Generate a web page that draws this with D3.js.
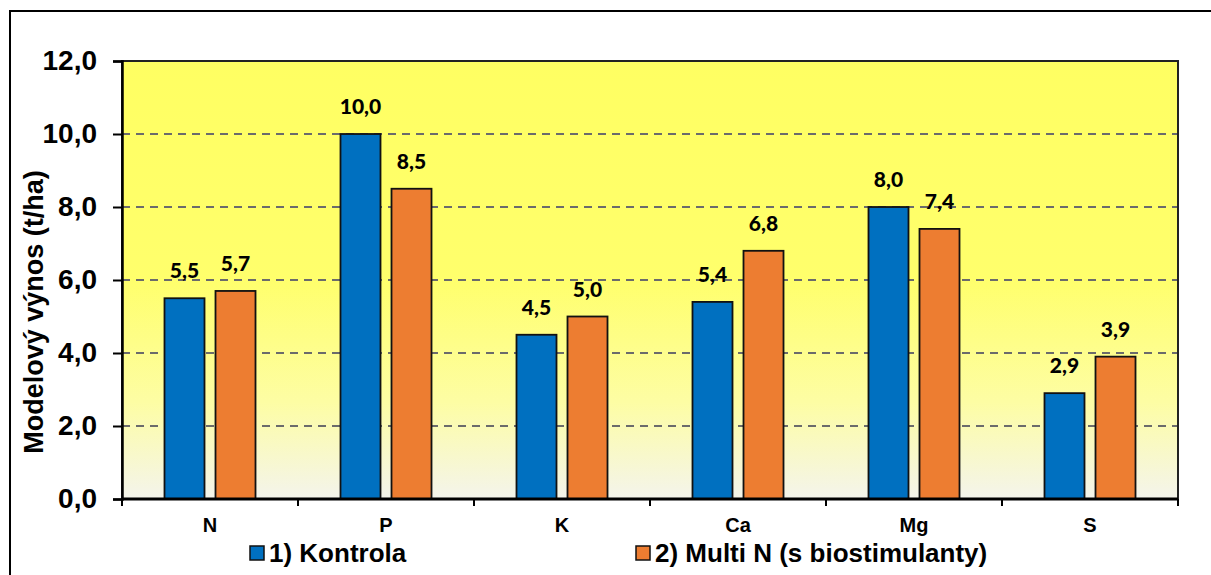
<!DOCTYPE html>
<html>
<head>
<meta charset="utf-8">
<script src="https://cdn.jsdelivr.net/npm/d3@7"></script>
<style>
  body { margin: 0; background: #fff; }
  svg { display: block; }
</style>
</head>
<body>
<div id="chart"></div>
<script>
// data
var categories = ["N", "P", "K", "Ca", "Mg", "S"];
var seriesNames = ["1) Kontrola", "2) Multi N (s biostimulanty)"];
var kontrola = [5.5, 10.0, 4.5, 5.4, 8.0, 2.9];
var multiN = [5.7, 8.5, 5.0, 6.8, 7.4, 3.9];
var yTicks = [0, 2, 4, 6, 8, 10, 12];
var yTitle = "Modelový výnos (t/ha)";

var colors = ["#0070C0", "#ED7D31"];
var seriesValues = [kontrola, multiN];

var width = 1211, height = 575;
var plot = {left: 122, top: 61, right: 1178, bottom: 499};

var svg = d3.select("#chart").append("svg")
  .attr("width", width)
  .attr("height", height);

// background gradient of the plot area
var defs = svg.append("defs");
var grad = defs.append("linearGradient")
  .attr("id", "bg")
  .attr("x1", 0).attr("y1", 0).attr("x2", 0).attr("y2", 1);
grad.append("stop").attr("offset", "0%").attr("stop-color", "#FFFF62");
grad.append("stop").attr("offset", "50%").attr("stop-color", "#FFFF6C");
grad.append("stop").attr("offset", "78%").attr("stop-color", "#FDFDA4");
grad.append("stop").attr("offset", "100%").attr("stop-color", "#F4F4EC");

// outer chart border
svg.append("rect")
  .attr("x", 10).attr("y", 11)
  .attr("width", 1210).attr("height", 600)
  .attr("fill", "none")
  .attr("stroke", "#000")
  .attr("stroke-width", 2);

var x0 = d3.scaleBand()
  .domain(categories)
  .range([plot.left, plot.right])
  .padding(0);

var x1 = d3.scaleBand()
  .domain(d3.range(seriesNames.length))
  .range([0, x0.bandwidth()])
  .paddingInner(0.2157)
  .paddingOuter(0.833);

var y = d3.scaleLinear()
  .domain([0, 12])
  .range([plot.bottom, plot.top]);

svg.append("rect")
  .attr("x", plot.left).attr("y", plot.top)
  .attr("width", plot.right - plot.left)
  .attr("height", plot.bottom - plot.top)
  .attr("fill", "url(#bg)");

// gridlines
svg.append("g")
  .selectAll("line")
  .data(yTicks.filter(function(d){ return d > 0 && d < 12; }))
  .enter()
  .append("line")
  .attr("x1", plot.left).attr("x2", plot.right)
  .attr("y1", function(d){ return y(d); })
  .attr("y2", function(d){ return y(d); })
  .attr("stroke", "#6b6b6b")
  .attr("stroke-width", 2)
  .attr("stroke-dasharray", "8,6");

// plot border
svg.append("rect")
  .attr("x", plot.left).attr("y", plot.top)
  .attr("width", plot.right - plot.left)
  .attr("height", plot.bottom - plot.top)
  .attr("fill", "none")
  .attr("stroke", "#222")
  .attr("stroke-width", 2);

// bars
var groups = svg.append("g")
  .selectAll("g")
  .data(categories)
  .enter()
  .append("g")
  .attr("transform", function(d){ return "translate(" + x0(d) + ",0)"; });

groups.selectAll("rect")
  .data(function(d, i){ return seriesValues.map(function(s, j){ return {s: j, v: s[i]}; }); })
  .enter()
  .append("rect")
  .attr("x", function(d){ return x1(d.s); })
  .attr("y", function(d){ return y(d.v); })
  .attr("width", x1.bandwidth())
  .attr("height", function(d){ return y(0) - y(d.v); })
  .attr("fill", function(d){ return colors[d.s]; })
  .attr("stroke", "#111")
  .attr("stroke-width", 1.8);

// data labels
groups.selectAll("text")
  .data(function(d, i){ return seriesValues.map(function(s, j){ return {s: j, v: s[i]}; }); })
  .enter()
  .append("text")
  .attr("x", function(d){ return x1(d.s) + x1.bandwidth() / 2; })
  .attr("y", function(d){ return y(d.v) - 20; })
  .attr("text-anchor", "middle")
  .style("font-family", "Lato, 'Open Sans', sans-serif")
  .style("font-weight", "900")
  .style("font-size", "21px")
  .text(function(d){ return d3.format(".1f")(d.v).replace(".", ","); });

// y axis
var yAxis = svg.append("g")
  .attr("transform", "translate(" + plot.left + ",0)")
  .call(d3.axisLeft(y).tickValues(yTicks).tickSize(9).tickPadding(16)
    .tickFormat(function(d){ return d3.format(".1f")(d).replace(".", ","); }));
yAxis.select(".domain").attr("stroke", "#000").attr("stroke-width", 2.5);
yAxis.selectAll(".tick line").attr("stroke", "#000").attr("stroke-width", 2);
yAxis.selectAll("text")
  .style("font-family", "'Liberation Sans', Arial, sans-serif")
  .style("font-weight", "bold")
  .style("font-size", "28px")
  .attr("fill", "#000");

// x axis: ticks at category boundaries
var xAxis = svg.append("g")
  .attr("transform", "translate(0," + plot.bottom + ")");
xAxis.append("line")
  .attr("x1", plot.left).attr("x2", plot.right)
  .attr("stroke", "#000").attr("stroke-width", 3);
xAxis.selectAll(".xt")
  .data(categories.concat(["end"]))
  .enter()
  .append("line")
  .attr("class", "xt")
  .attr("x1", function(d, i){ return i < categories.length ? x0(d) : plot.right; })
  .attr("x2", function(d, i){ return i < categories.length ? x0(d) : plot.right; })
  .attr("y1", 0).attr("y2", 7)
  .attr("stroke", "#000").attr("stroke-width", 2);
xAxis.selectAll(".xl")
  .data(categories)
  .enter()
  .append("text")
  .attr("class", "xl")
  .attr("x", function(d){ return x0(d) + x0.bandwidth() / 2; })
  .attr("y", 33)
  .attr("text-anchor", "middle")
  .style("font-family", "'Liberation Sans', Arial, sans-serif")
  .style("font-weight", "bold")
  .style("font-size", "20px")
  .text(function(d){ return d; });

// y title
svg.append("text")
  .attr("transform", "translate(43,312) rotate(-90)")
  .attr("text-anchor", "middle")
  .style("font-family", "'Liberation Sans', Arial, sans-serif")
  .style("font-weight", "bold")
  .style("font-size", "27px")
  .text(yTitle);

// legend
var legendX = [250, 636];
var legend = svg.append("g")
  .selectAll("g")
  .data(seriesNames)
  .enter()
  .append("g")
  .attr("transform", function(d, i){ return "translate(" + legendX[i] + ",546)"; });
legend.append("rect")
  .attr("width", 14).attr("height", 14)
  .attr("fill", function(d, i){ return colors[i]; })
  .attr("stroke", "#111")
  .attr("stroke-width", 1.5);
legend.append("text")
  .attr("x", 19)
  .attr("y", 16)
  .style("font-family", "'Liberation Sans', Arial, sans-serif")
  .style("font-weight", "bold")
  .style("font-size", "26px")
  .text(function(d){ return d; });
</script>
</body>
</html>
